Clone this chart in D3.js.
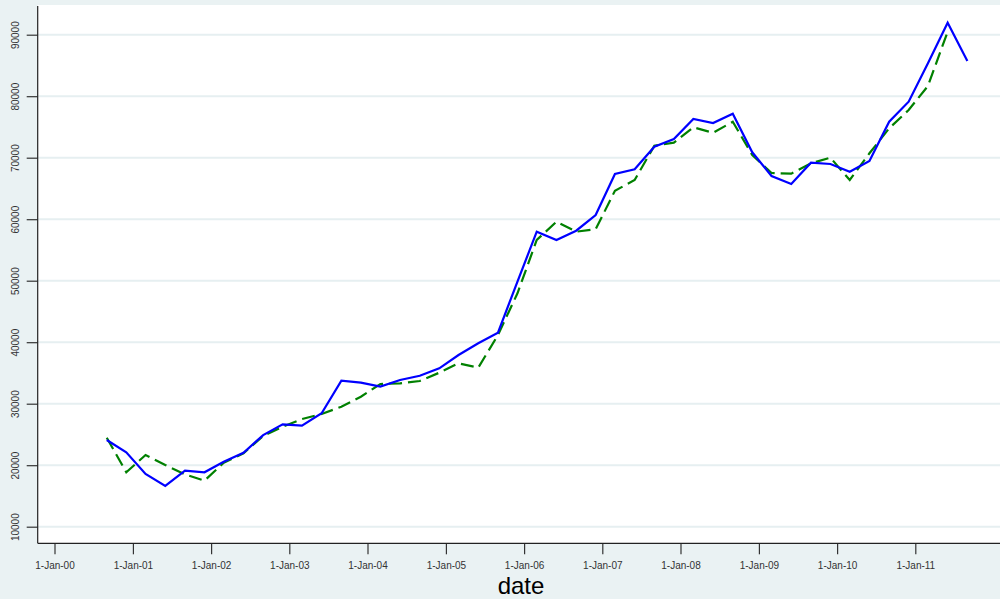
<!DOCTYPE html>
<html>
<head>
<meta charset="utf-8">
<script src="https://cdn.jsdelivr.net/npm/d3@7"></script>
<style>
  body { margin: 0; background: #eaf2f3; }
  svg { display: block; font-family: Arial, "Liberation Sans", sans-serif; }
</style>
</head>
<body>
<svg id="chart"></svg>
<script>
// quarterly observations, starting Sep 2000
const startDate = "2000-09-01"
const blueValues = [24100, 22100, 18570, 16620, 19100, 18850, 20570, 22030, 24900, 26650,
                    26420, 28440, 33740, 33420, 32770, 33850, 34550, 35750, 37920, 39820,
                    41550, 49840, 57970, 56620, 58130, 60680, 67350, 68110, 71790, 73040,
                    76290, 75640, 77160, 70880, 67020, 65720, 69190, 68980, 67720, 69460,
                    75850, 79110, 85350, 91950, 85720]
const greenValues = [24470, 18850, 21660, 20030, 18520, 17480, 20400, 21930, 24750, 26260,
                     27510, 28330, 29510, 31140, 33200, 33300, 33690, 35040, 36570, 35850,
                     41170, 47950, 56620, 59590, 57970, 58360, 64630, 66370, 71950, 72440,
                     74940, 74060, 75850, 70440, 67510, 67400, 69090, 70000, 66370, 70720,
                     74780, 77760, 81660, 90490]
const yTicks = [10000, 20000, 30000, 40000, 50000, 60000, 70000, 80000, 90000]
const xTickYears = d3.range(2000, 2012)

function LineChart(id, width = 1000, height = 599){

    const plot = {left: 37.7, right: 1000, top: 5, bottom: 543.3}

    const svg = d3.select(`#${id}`)
                  .attr("width", width)
                  .attr("height", height)

    svg.append("rect")
       .attr("width", width).attr("height", height)
       .attr("fill", "#eaf2f3")

    svg.append("rect")
       .attr("x", plot.left).attr("y", plot.top)
       .attr("width", plot.right - plot.left)
       .attr("height", plot.bottom - plot.top)
       .attr("fill", "#ffffff")

    const parse = d3.timeParse("%Y-%m-%d"),
          d0 = parse(startDate),
          dateAt = i => d3.timeMonth.offset(d0, 3 * i)

    const x = d3.scaleTime()
                .domain([new Date(2000, 0, 1), new Date(2011, 0, 1)])
                .range([54.5, 915.3])
    const y = d3.scaleLinear()
                .domain([10000, 90000])
                .range([526.7, 34.7])

    // grid
    svg.append("g")
       .selectAll("line")
       .data(yTicks)
       .join("line")
       .attr("x1", plot.left).attr("x2", plot.right)
       .attr("y1", d => y(d)).attr("y2", d => y(d))
       .attr("stroke", "#e6eff1")
       .attr("stroke-width", 2)

    // y axis
    const yAxis = svg.append("g")
                     .attr("transform", `translate(${plot.left},0)`)
                     .call(d3.axisLeft(y).tickValues(yTicks).tickSize(11).tickPadding(0).tickFormat(d3.format("d")))
    yAxis.select(".domain").remove()
    yAxis.selectAll(".tick line").attr("stroke", "#333").attr("stroke-width", 1.2)
    yAxis.selectAll(".tick text")
         .attr("transform", "rotate(-90)")
         .attr("x", 0).attr("y", -22.7)
         .attr("dy", "0.35em")
         .attr("text-anchor", "middle")
         .attr("font-size", 10)
         .attr("fill", "#333")
         .attr("font-family", "Arial, 'Liberation Sans', sans-serif")

    // x axis
    const xAxis = svg.append("g")
                     .attr("transform", `translate(0,${plot.bottom})`)
                     .call(d3.axisBottom(x)
                             .tickValues(xTickYears.map(yr => new Date(yr, 0, 1)))
                             .tickSize(11)
                             .tickPadding(8)
                             .tickFormat(d3.timeFormat("1-%b-%y")))
    xAxis.select(".domain").remove()
    xAxis.selectAll(".tick line").attr("stroke", "#333").attr("stroke-width", 1.2)
    xAxis.selectAll(".tick text")
         .attr("font-size", 10)
         .attr("fill", "#333")
         .attr("font-family", "Arial, 'Liberation Sans', sans-serif")

    // axis lines
    svg.append("line")
       .attr("x1", plot.left).attr("x2", plot.left)
       .attr("y1", plot.top + 1).attr("y2", plot.bottom)
       .attr("stroke", "#222").attr("stroke-width", 1.2)
    svg.append("line")
       .attr("x1", plot.left).attr("x2", plot.right)
       .attr("y1", plot.bottom).attr("y2", plot.bottom)
       .attr("stroke", "#222").attr("stroke-width", 1.2)

    // series
    const line = d3.line()
                   .x((d, i) => x(dateAt(i)))
                   .y(d => y(d))

    svg.append("path")
       .attr("d", line(greenValues))
       .attr("fill", "none")
       .attr("stroke", "#008000")
       .attr("stroke-width", 2.2)
       .attr("stroke-dasharray", "13,6")

    svg.append("path")
       .attr("d", line(blueValues))
       .attr("fill", "none")
       .attr("stroke", "#0000ff")
       .attr("stroke-width", 2.2)

    svg.append("text")
       .attr("x", 521).attr("y", 594)
       .attr("text-anchor", "middle")
       .attr("font-size", 24)
       .attr("fill", "#000")
       .text("date")
}

LineChart("chart")
</script>
</body>
</html>
